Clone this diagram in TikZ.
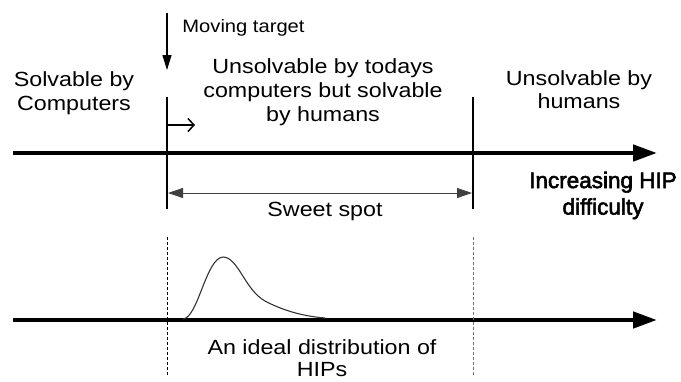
\documentclass[tikz,border=0pt]{standalone}
\usepackage{graphicx}
\usepackage{fontspec}
\setmainfont{Liberation Sans}
\newfontfamily\ihfont{Liberation Sans}[FakeBold=2.5]
\usetikzlibrary{arrows.meta}
\newcommand{\sxt}[2]{\scalebox{#1}[1]{\begin{tabular}{@{}c@{}}#2\end{tabular}}}
\begin{document}
\begin{tikzpicture}[x=1pt,y=-1pt,
  lbl/.style={inner sep=0pt, outer sep=0pt, font=\fontsize{20.5}{24}\selectfont},
  axisline/.style={line width=4.5pt, -{Triangle[length=24pt,width=16pt]}},
  boundline/.style={line width=2.5pt},
  guide/.style={line width=0.8pt, dash pattern=on 3pt off 2pt},
  thinarrow/.style={line width=1.1pt},
  curveline/.style={line width=1.1pt, draw=black!80}]
\useasboundingbox (0,0) rectangle (681,381);

% coordinates
\coordinate (a1s) at (13,153);
\coordinate (a1e) at (657,153);
\coordinate (a2s) at (13,320);
\coordinate (a2e) at (657,320);
\coordinate (lt) at (167,97);
\coordinate (lb) at (167,209);
\coordinate (rt) at (473,97);
\coordinate (rb) at (473,209);
\coordinate (mvs) at (167,13);
\coordinate (mve) at (167,70);
\coordinate (sms) at (167,125);
\coordinate (sme) at (195,125);
\coordinate (swl) at (168,193);
\coordinate (swr) at (472,193);
\coordinate (dlt) at (167,237);
\coordinate (dlb) at (167,375);
\coordinate (drt) at (473,237);
\coordinate (drb) at (473,375);
\coordinate (c0) at (183,319);
\coordinate (c1) at (223,257);
\coordinate (c2) at (265,301);
\coordinate (c3) at (325,318);

% axes
\draw[axisline] (a1s) -- (a1e);
\draw[axisline] (a2s) -- (a2e);

% boundaries
\draw[boundline] (lt) -- (lb);
\draw[boundline] (rt) -- (rb);

% moving target arrow
\draw[thinarrow, -{Triangle[length=15pt,width=9pt]}] (mvs) -- (mve);
\draw[line width=1.5pt, -{Straight Barb[length=6pt,width=13pt]}] (sms) -- (sme);

% sweet spot arrow
\draw[line width=0.8pt, draw=black!75, {Triangle[length=15pt,width=10pt]}-{Triangle[length=15pt,width=10pt]}] (swl) -- (swr);

% dashed guides
\draw[guide] (dlt) -- (dlb);
\draw[guide, draw=black!55] (drt) -- (drb);

% distribution curve
\draw[curveline] (c0) .. controls (198,318) and (206,258) .. (c1)
  .. controls (238,257) and (245,290) .. (c2)
  .. controls (280,309) and (300,316) .. (c3);

% labels
\node[lbl, font=\fontsize{18}{21.6}\selectfont] (mt) at (243.5,27.7) {\sxt{1.12}{Moving target}};
\node[lbl] (sc) at (74,93.7) {\sxt{1.135}{Solvable by\\Computers}};
\node[lbl] (uc) at (323,92.7) {\sxt{1.135}{Unsolvable by todays\\computers but solvable\\by humans}};
\node[lbl, font=\fontsize{20.5}{23}\selectfont] (uh) at (579,92) {\sxt{1.135}{Unsolvable by\\humans}};
\node[inner sep=0pt, outer sep=0pt, align=center, font=\ihfont\fontsize{22.5}{26.5}\selectfont] (ih) at (603,195.5) {Increasing HIP\\difficulty};
\node[lbl] (ss) at (325,212) {\sxt{1.135}{Sweet spot}};
\node[lbl, font=\fontsize{20.5}{22.5}\selectfont] (id) at (322,361) {\sxt{1.135}{An ideal distribution of\\HIPs}};
\end{tikzpicture}
\end{document}
